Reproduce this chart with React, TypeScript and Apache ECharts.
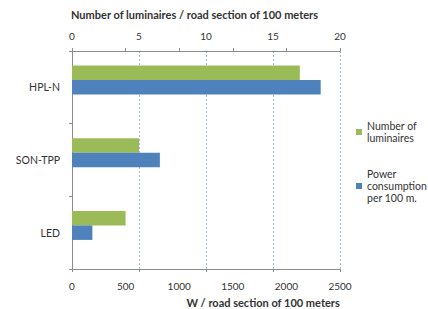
import React, { useEffect, useRef } from "react";
import * as echarts from "echarts";

const categories = ["HPL-N", "SON-TPP", "LED"];
const luminaires = [17, 5, 4];
const power = [2320, 820, 190];
const topTicks = { min: 0, max: 20, interval: 5 };
const bottomTicks = { min: 0, max: 2500, interval: 500 };
const seriesNames = ["Number of\nluminaires", "Power\nconsumption\nper 100 m."];
const topTitle = "Number of luminaires / road section of 100 meters";
const bottomTitle = "W / road section of 100 meters";

const FONT = "Lato, 'Open Sans', sans-serif";
const TXT = "#333";
const AX = "#8c8c8c";

export default function App() {
  const ref = useRef<HTMLDivElement>(null);
  useEffect(() => {
    if (!ref.current) return;
    const chart = echarts.init(ref.current, null, { renderer: "svg" });
    const axisBase = {
      type: "value" as const,
      axisLine: { show: true, lineStyle: { color: AX, width: 1 } },
      axisLabel: { color: TXT, fontSize: 10, fontFamily: FONT, formatter: (v: number) => String(v) },
    };
    const legendText = { fontSize: 10.5, lineHeight: 12, color: TXT, fontFamily: FONT };
    chart.setOption({
      animation: false,
      textStyle: { fontFamily: FONT },
      title: [
        {
          text: topTitle,
          left: 71,
          top: 9,
          textStyle: { fontSize: 11, fontWeight: "bold", color: TXT, fontFamily: FONT },
          padding: 0,
        },
        {
          text: bottomTitle,
          right: 88,
          top: 297,
          textStyle: { fontSize: 11, fontWeight: "bold", color: TXT, fontFamily: FONT },
          padding: 0,
        },
      ],
      legend: [
        {
          data: [{ name: seriesNames[0], textStyle: { padding: [12, 0, 0, 0] } }],
          left: 356,
          top: 114,
          orient: "vertical",
          itemWidth: 6,
          itemHeight: 6,
          icon: "rect",
          padding: 0,
          selectedMode: false,
          textStyle: legendText,
        },
        {
          data: [{ name: seriesNames[1], textStyle: { padding: [24, 0, 0, 0] } }],
          left: 356,
          top: 156,
          orient: "vertical",
          itemWidth: 6,
          itemHeight: 6,
          icon: "rect",
          padding: 0,
          selectedMode: false,
          textStyle: legendText,
        },
      ],
      grid: { left: 72, right: 88, top: 51, bottom: 40, containLabel: false },
      xAxis: [
        {
          ...axisBase,
          position: "top",
          min: topTicks.min,
          max: topTicks.max,
          interval: topTicks.interval,
          axisTick: { show: false },
          axisLabel: { ...axisBase.axisLabel, margin: 10 },
          splitLine: { show: true, lineStyle: { color: "#9db9e3", type: [2, 2], width: 1 } },
        },
        {
          ...axisBase,
          position: "bottom",
          min: bottomTicks.min,
          max: bottomTicks.max,
          interval: bottomTicks.interval,
          axisTick: { show: false },
          axisLabel: { ...axisBase.axisLabel, margin: 12 },
          splitLine: { show: false },
        },
        {
          type: "value",
          position: "top",
          min: 0,
          max: 20,
          interval: 4,
          axisLine: { show: false },
          axisLabel: { show: false },
          axisTick: { show: true, length: 3, lineStyle: { color: AX } },
          splitLine: { show: false },
        },
        {
          type: "value",
          position: "bottom",
          min: 0,
          max: 2500,
          interval: 625,
          axisLine: { show: false },
          axisLabel: { show: false },
          axisTick: { show: true, length: 3, lineStyle: { color: AX } },
          splitLine: { show: false },
        },
      ],
      yAxis: {
        type: "category",
        data: categories,
        inverse: true,
        axisLine: { show: true, lineStyle: { color: AX } },
        axisTick: { show: true, length: 3, lineStyle: { color: AX } },
        axisLabel: { color: TXT, fontSize: 10.5, fontFamily: FONT, margin: 12 },
      },
      series: [
        {
          name: seriesNames[0],
          type: "bar",
          xAxisIndex: 0,
          data: luminaires,
          barWidth: 14.5,
          barGap: "0%",
          itemStyle: { color: "#9bbb59" },
        },
        {
          name: seriesNames[1],
          type: "bar",
          xAxisIndex: 1,
          data: power,
          barWidth: 14.5,
          barGap: "0%",
          itemStyle: { color: "#4f81bd" },
        },
        {
          name: "spacer",
          type: "bar",
          xAxisIndex: 0,
          data: [0, 0, 0],
          barWidth: 14.5,
          barGap: "0%",
          silent: true,
          itemStyle: { color: "rgba(0,0,0,0)" },
        },
      ],
    });
    return () => chart.dispose();
  }, []);
  return <div ref={ref} style={{ width: 428, height: 309, position: "absolute", left: 0, top: 0 }} />;
}
